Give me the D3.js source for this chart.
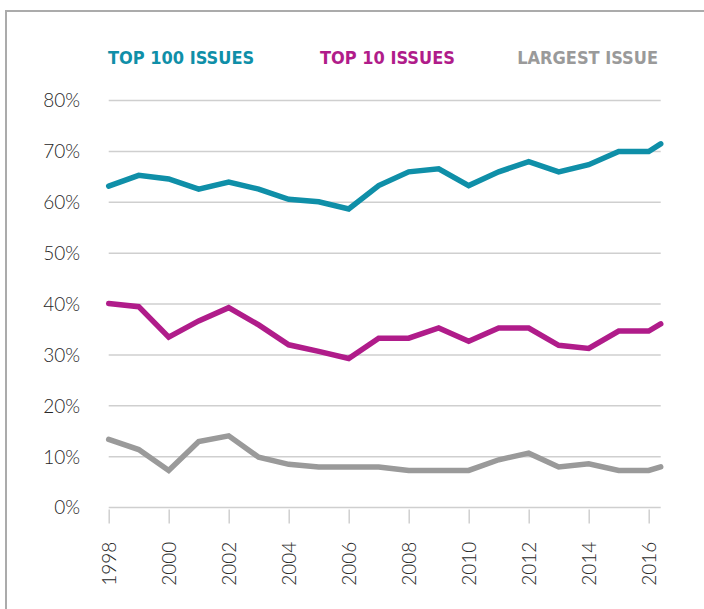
<!DOCTYPE html>
<html>
<head>
<meta charset="utf-8">
<script src="https://cdn.jsdelivr.net/npm/d3@7"></script>
<style>
  html, body { margin: 0; padding: 0; background: #fff; }
  svg { display: block; }
</style>
</head>
<body>
<svg id="chart" width="704" height="609"></svg>
<script>
const years = [1998, 1999, 2000, 2001, 2002, 2003, 2004, 2005, 2006, 2007, 2008, 2009, 2010, 2011, 2012, 2013, 2014, 2015, 2016, 2016.4];
const top100 = [63.2, 65.3, 64.6, 62.6, 64.0, 62.6, 60.6, 60.1, 58.7, 63.3, 66.0, 66.6, 63.3, 66.0, 68.0, 66.0, 67.4, 70.0, 70.0, 71.5];
const top10 = [40.1, 39.5, 33.5, 36.7, 39.3, 35.9, 32.0, 30.7, 29.3, 33.3, 33.3, 35.3, 32.7, 35.3, 35.3, 31.9, 31.3, 34.7, 34.7, 36.1];
const largest = [13.4, 11.4, 7.3, 13.0, 14.1, 9.9, 8.5, 8.0, 8.0, 8.0, 7.3, 7.3, 7.3, 9.4, 10.7, 8.0, 8.6, 7.3, 7.3, 8.0];
const seriesNames = ["TOP 100 ISSUES", "TOP 10 ISSUES", "LARGEST ISSUE"];
const seriesColors = ["#0f8fa8", "#b01c8a", "#9a9a9a"];
const yTicks = [0, 10, 20, 30, 40, 50, 60, 70, 80];
const xTicks = [1998, 2000, 2002, 2004, 2006, 2008, 2010, 2012, 2014, 2016];

const svg = d3.select("#chart");

// frame (top + left border)
svg.append("path")
  .attr("d", "M6,609 L6,11 L704,11")
  .attr("fill", "none")
  .attr("stroke", "#ababab")
  .attr("stroke-width", 2);

const x = d3.scaleLinear().domain([1998, 2016.4]).range([108.7, 660.7]);
const y = d3.scaleLinear().domain([0, 80]).range([507.6, 100.6]);

// gridlines
svg.append("g").selectAll("line").data(yTicks).join("line")
  .attr("x1", x.range()[0]).attr("x2", x.range()[1])
  .attr("y1", d => y(d)).attr("y2", d => y(d))
  .attr("stroke", "#cfcfcf").attr("stroke-width", 1.5);

const labelFont = "Lato, 'Open Sans', sans-serif";

// y labels
svg.append("g").selectAll("text").data(yTicks).join("text")
  .attr("x", 80).attr("y", d => y(d))
  .attr("dy", "0.36em")
  .attr("text-anchor", "end")
  .attr("font-family", labelFont)
  .attr("font-weight", 300)
  .attr("font-size", 19)
  .attr("fill", "#262626")
  .text(d => d + "%");

// x axis ticks
const xAxis = d3.axisBottom(x).tickValues(xTicks).tickSize(14).tickFormat(d3.format("d"));
const gx = svg.append("g").attr("transform", `translate(0,${y(0) + 2})`).call(xAxis);
gx.select(".domain").remove();
gx.selectAll(".tick line").attr("stroke", "#cfcfcf").attr("stroke-width", 1.5);
gx.selectAll(".tick text")
  .attr("font-family", labelFont)
  .attr("font-weight", 300)
  .attr("font-size", 19)
  .attr("fill", "#262626")
  .attr("transform", "rotate(-90)")
  .attr("text-anchor", "end")
  .attr("x", -32)
  .attr("y", 0)
  .attr("dy", "0.36em");

// lines
const allSeries = [top100, top10, largest];
const line = d3.line().x((d, i) => x(years[i])).y(d => y(d));
svg.append("g").selectAll("path").data(allSeries).join("path")
  .attr("d", d => line(d))
  .attr("fill", "none")
  .attr("stroke", (d, i) => seriesColors[i])
  .attr("stroke-width", 5.5)
  .attr("stroke-linejoin", "miter")
  .attr("stroke-linecap", "round");

// legend
const legendX = [108, 320, 658];
const legendAnchor = ["start", "start", "end"];
svg.append("g").selectAll("text").data(seriesNames).join("text")
  .attr("x", (d, i) => legendX[i])
  .attr("y", 64)
  .attr("text-anchor", (d, i) => legendAnchor[i])
  .attr("font-family", "'DejaVu Sans Condensed', 'DejaVu Sans', sans-serif")
  .attr("font-stretch", "condensed")
  .attr("font-weight", "bold")
  .attr("font-size", 18)
  .attr("fill", (d, i) => seriesColors[i])
  .text(d => d);
</script>
</body>
</html>
